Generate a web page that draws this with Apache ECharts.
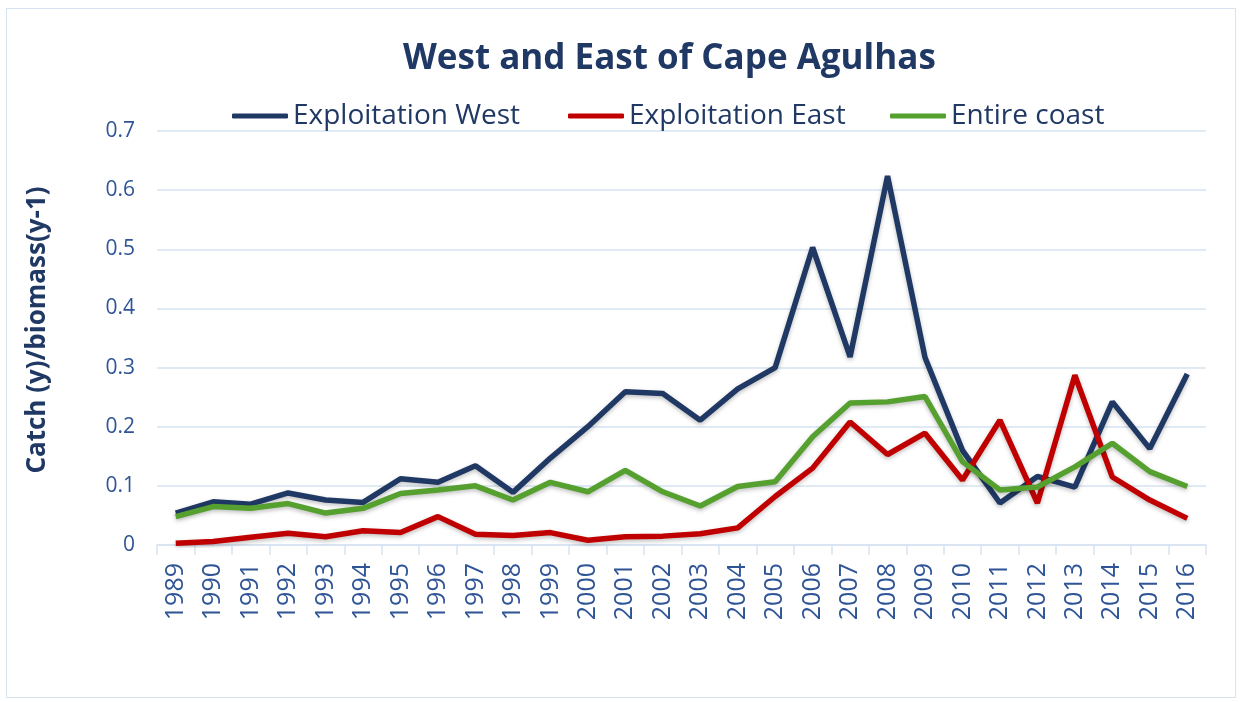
<!DOCTYPE html>
<html>
<head>
<meta charset="utf-8">
<script src="https://cdn.jsdelivr.net/npm/echarts@6/dist/echarts.min.js"></script>
<style>
  html, body { margin: 0; padding: 0; background: #fff; }
  #frame { position: absolute; left: 6px; top: 8px; width: 1230px; height: 690px; border: 1.5px solid #d6e3f2; box-sizing: border-box; }
  #chart { position: absolute; left: 0; top: 0; width: 1242px; height: 702px; }
</style>
</head>
<body>
<div id="frame"></div>
<div id="chart"></div>
<script>
  // years on the x axis
  var years = ['1989', '1990', '1991', '1992', '1993', '1994', '1995', '1996', '1997', '1998',
    '1999', '2000', '2001', '2002', '2003', '2004', '2005', '2006', '2007', '2008',
    '2009', '2010', '2011', '2012', '2013', '2014', '2015', '2016'];

  var exploitationWest = [0.054, 0.073, 0.069, 0.088, 0.076, 0.072, 0.112, 0.106, 0.134, 0.089,
    0.147, 0.200, 0.259, 0.256, 0.211, 0.264, 0.300, 0.503, 0.318, 0.624,
    0.317, 0.160, 0.071, 0.116, 0.098, 0.242, 0.163, 0.289];

  var exploitationEast = [0.003, 0.006, 0.013, 0.020, 0.014, 0.024, 0.021, 0.048, 0.018, 0.016,
    0.021, 0.008, 0.014, 0.015, 0.019, 0.029, 0.082, 0.130, 0.208, 0.153,
    0.189, 0.110, 0.211, 0.071, 0.287, 0.115, 0.076, 0.045];

  var entireCoast = [0.048, 0.065, 0.062, 0.070, 0.054, 0.062, 0.087, 0.093, 0.100, 0.076,
    0.106, 0.090, 0.126, 0.090, 0.066, 0.099, 0.107, 0.183, 0.240, 0.242,
    0.251, 0.141, 0.093, 0.098, 0.132, 0.172, 0.124, 0.099];

  var navy = '#1f3864', red = '#c00000', green = '#55a02e', labelBlue = '#2f5597';
  var font = 'Open Sans';

  var chart = echarts.init(document.getElementById('chart'), null, { renderer: 'canvas' });

  function legendAt(name, left) {
    return {
      data: [name],
      left: left,
      top: 102,
      padding: 0,
      icon: 'roundRect',
      itemWidth: 56,
      itemHeight: 5,
      itemGap: 0,
      textStyle: { fontFamily: font, fontSize: 28, color: navy, padding: [0, 0, 0, 0] }
    };
  }

  function lineSeries(name, data, color) {
    return {
      name: name, type: 'line', data: data, showSymbol: false,
      lineStyle: { color: color, width: 5.5, shadowColor: 'rgba(0,0,0,0.25)', shadowBlur: 4, shadowOffsetY: 2 },
      itemStyle: { color: color }
    };
  }

  chart.setOption({
    title: {
      text: 'West and East of Cape Agulhas',
      left: 403,
      top: 42,
      padding: 0,
      textStyle: { fontFamily: font, fontSize: 35, fontWeight: 'bold', color: navy }
    },
    legend: [
      legendAt('Exploitation West', 232),
      legendAt('Exploitation East', 568),
      legendAt('Entire coast', 890)
    ],
    grid: { left: 157, right: 36, top: 131, bottom: 157 },
    xAxis: {
      type: 'category',
      data: years,
      boundaryGap: true,
      axisLine: { lineStyle: { color: '#d6e3f2', width: 1.5 } },
      axisTick: { show: true, length: 10, lineStyle: { color: '#d6e3f2', width: 1.5 } },
      axisLabel: { rotate: 90, fontFamily: font, fontSize: 25, color: labelBlue, margin: 18 }
    },
    yAxis: {
      type: 'value',
      min: 0,
      max: 0.7,
      interval: 0.1,
      name: 'Catch (y)/biomass(y-1)',
      nameLocation: 'middle',
      nameGap: 106,
      nameTextStyle: { fontFamily: font, fontSize: 26, fontWeight: 'bold', color: navy, padding: [0, 0, 0, 16] },
      axisLine: { show: false },
      axisTick: { show: false },
      axisLabel: {
        fontFamily: font, fontSize: 21, color: labelBlue, margin: 22,
        formatter: function (v) { return v === 0 ? '0' : v.toFixed(1); }
      },
      splitLine: { lineStyle: { color: '#d6e3f2', width: 1.5 } }
    },
    series: [
      lineSeries('Exploitation West', exploitationWest, navy),
      lineSeries('Exploitation East', exploitationEast, red),
      lineSeries('Entire coast', entireCoast, green)
    ],
    animation: false
  });
</script>
</body>
</html>
